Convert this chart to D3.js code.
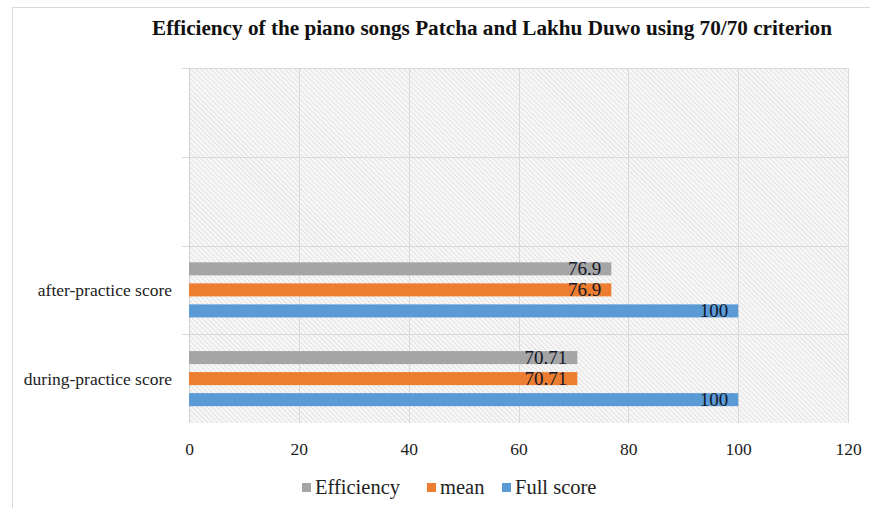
<!DOCTYPE html>
<html>
<head>
<meta charset="utf-8">
<script src="https://cdn.jsdelivr.net/npm/d3@7"></script>
<style>
  body { margin: 0; background: #fff; }
  svg text { font-family: "Liberation Serif", "DejaVu Serif", serif !important; }
</style>
</head>
<body>
<div id="chart"></div>
<script>
// Data
var categories = ["during-practice score", "after-practice score", "blank1", "blank2"];
var categoryLabels = ["during-practice score", "after-practice score", "", ""];
var seriesNames = ["Efficiency", "mean", "Full score"];
var seriesColors = ["#a5a5a5", "#ed7d31", "#5b9bd5"];
var efficiency = [70.71, 76.9];
var meanScore = [70.71, 76.9];
var fullScore = [100, 100];
var xTicks = [0, 20, 40, 60, 80, 100, 120];
var labelText = [["70.71", "76.9"], ["70.71", "76.9"], ["100", "100"]];

var svgWidth = 870;
var svgHeight = 508;

var margin = { top: 68, right: 22, bottom: 85, left: 189 };
var width = svgWidth - margin.left - margin.right;
var height = svgHeight - margin.top - margin.bottom;

var svg = d3.select("#chart")
  .append("svg")
  .attr("width", svgWidth)
  .attr("height", svgHeight);

// chart frame
svg.append("rect")
  .attr("x", 12.5).attr("y", 7.5)
  .attr("width", 900).attr("height", 600)
  .attr("fill", "none")
  .attr("stroke", "#d9d9d9");

// hatch pattern for the plot area
var defs = svg.append("defs");
var pat = defs.append("pattern")
  .attr("id", "hatch")
  .attr("patternUnits", "userSpaceOnUse")
  .attr("width", 3.5).attr("height", 3.5)
  .attr("patternTransform", "rotate(-45)");
pat.append("rect").attr("width", 3.5).attr("height", 3.5).attr("fill", "#f7f7f7");
pat.append("line")
  .attr("x1", 0).attr("y1", 0).attr("x2", 0).attr("y2", 3.5)
  .attr("stroke", "#dcdcdc").attr("stroke-width", 1.5);

svg.append("text")
  .attr("x", 492)
  .attr("y", 35)
  .attr("text-anchor", "middle")
  .attr("font-weight", "bold")
  .attr("font-size", "20px")
  .attr("textLength", 680)
  .attr("lengthAdjust", "spacingAndGlyphs")
  .attr("fill", "#111")
  .text("Efficiency of the piano songs Patcha and Lakhu Duwo using 70/70 criterion");

var chartGroup = svg.append("g")
  .attr("transform", `translate(${margin.left}, ${margin.top})`);

var xScale = d3.scaleLinear()
  .domain([0, 120])
  .range([0, width]);

var yScale = d3.scaleBand()
  .domain(categories.slice().reverse())
  .range([0, height]);

var inner = d3.scaleBand()
  .domain(seriesNames)
  .range([0, yScale.bandwidth()])
  .paddingInner(0.38)
  .paddingOuter(0.8);

chartGroup.append("rect")
  .attr("width", width)
  .attr("height", height)
  .attr("fill", "url(#hatch)");

// vertical gridlines
chartGroup.append("g")
  .selectAll("line")
  .data(xTicks)
  .enter()
  .append("line")
  .attr("x1", d => Math.round(xScale(d)) + 0.5)
  .attr("x2", d => Math.round(xScale(d)) + 0.5)
  .attr("y1", 0)
  .attr("y2", height)
  .attr("stroke", "#d9d9d9");

// horizontal category dividers with left ticks
chartGroup.append("g")
  .selectAll("line")
  .data(categories)
  .enter()
  .append("line")
  .attr("x1", -7)
  .attr("x2", width)
  .attr("y1", d => Math.round(yScale(d)) + 0.5)
  .attr("y2", d => Math.round(yScale(d)) + 0.5)
  .attr("stroke", "#d9d9d9");

chartGroup.append("line")
  .attr("x1", 0.5).attr("x2", 0.5)
  .attr("y1", 0).attr("y2", height)
  .attr("stroke", "#d0d0d0");

// bars
var seriesValues = [efficiency, meanScore, fullScore];
seriesValues.forEach(function(vals, s) {
  var g = chartGroup.append("g");
  g.selectAll("rect")
    .data(vals)
    .enter()
    .append("rect")
    .attr("x", 0)
    .attr("y", (d, i) => yScale(categories[i]) + inner(seriesNames[s]))
    .attr("width", d => xScale(d))
    .attr("height", inner.bandwidth())
    .attr("fill", seriesColors[s]);

  g.selectAll("text")
    .data(vals)
    .enter()
    .append("text")
    .attr("x", d => xScale(d) - 10)
    .attr("y", (d, i) => yScale(categories[i]) + inner(seriesNames[s]) + inner.bandwidth() / 2 + 6)
    .attr("text-anchor", "end")
    .attr("font-size", "19px")
    .attr("fill", "#14182a")
    .text((d, i) => labelText[s][i]);
});

// category labels
chartGroup.append("g")
  .selectAll("text")
  .data(categories)
  .enter()
  .append("text")
  .attr("x", -17)
  .attr("y", d => yScale(d) + yScale.bandwidth() / 2 + 6)
  .attr("text-anchor", "end")
  .attr("font-size", "17.5px")
  .attr("fill", "#222")
  .text((d, i) => categoryLabels[i]);

// x axis
var bottomAxis = d3.axisBottom(xScale).tickValues(xTicks).tickSize(0).tickPadding(20);
var xAxisG = chartGroup.append("g")
  .attr("transform", `translate(0, ${height})`)
  .call(bottomAxis);
xAxisG.select(".domain").remove();
xAxisG.selectAll("text")
  .attr("font-size", "17.5px")
  .attr("fill", "#222");

// legend
var legendX = [302, 427, 502];
var legend = svg.append("g");
seriesNames.forEach(function(name, i) {
  legend.append("rect")
    .attr("x", legendX[i])
    .attr("y", 483)
    .attr("width", 9)
    .attr("height", 9)
    .attr("fill", seriesColors[i]);
  legend.append("text")
    .attr("x", legendX[i] + 13)
    .attr("y", 494)
    .attr("font-size", "20.5px")
    .attr("fill", "#222")
    .text(name);
});
</script>
</body>
</html>
